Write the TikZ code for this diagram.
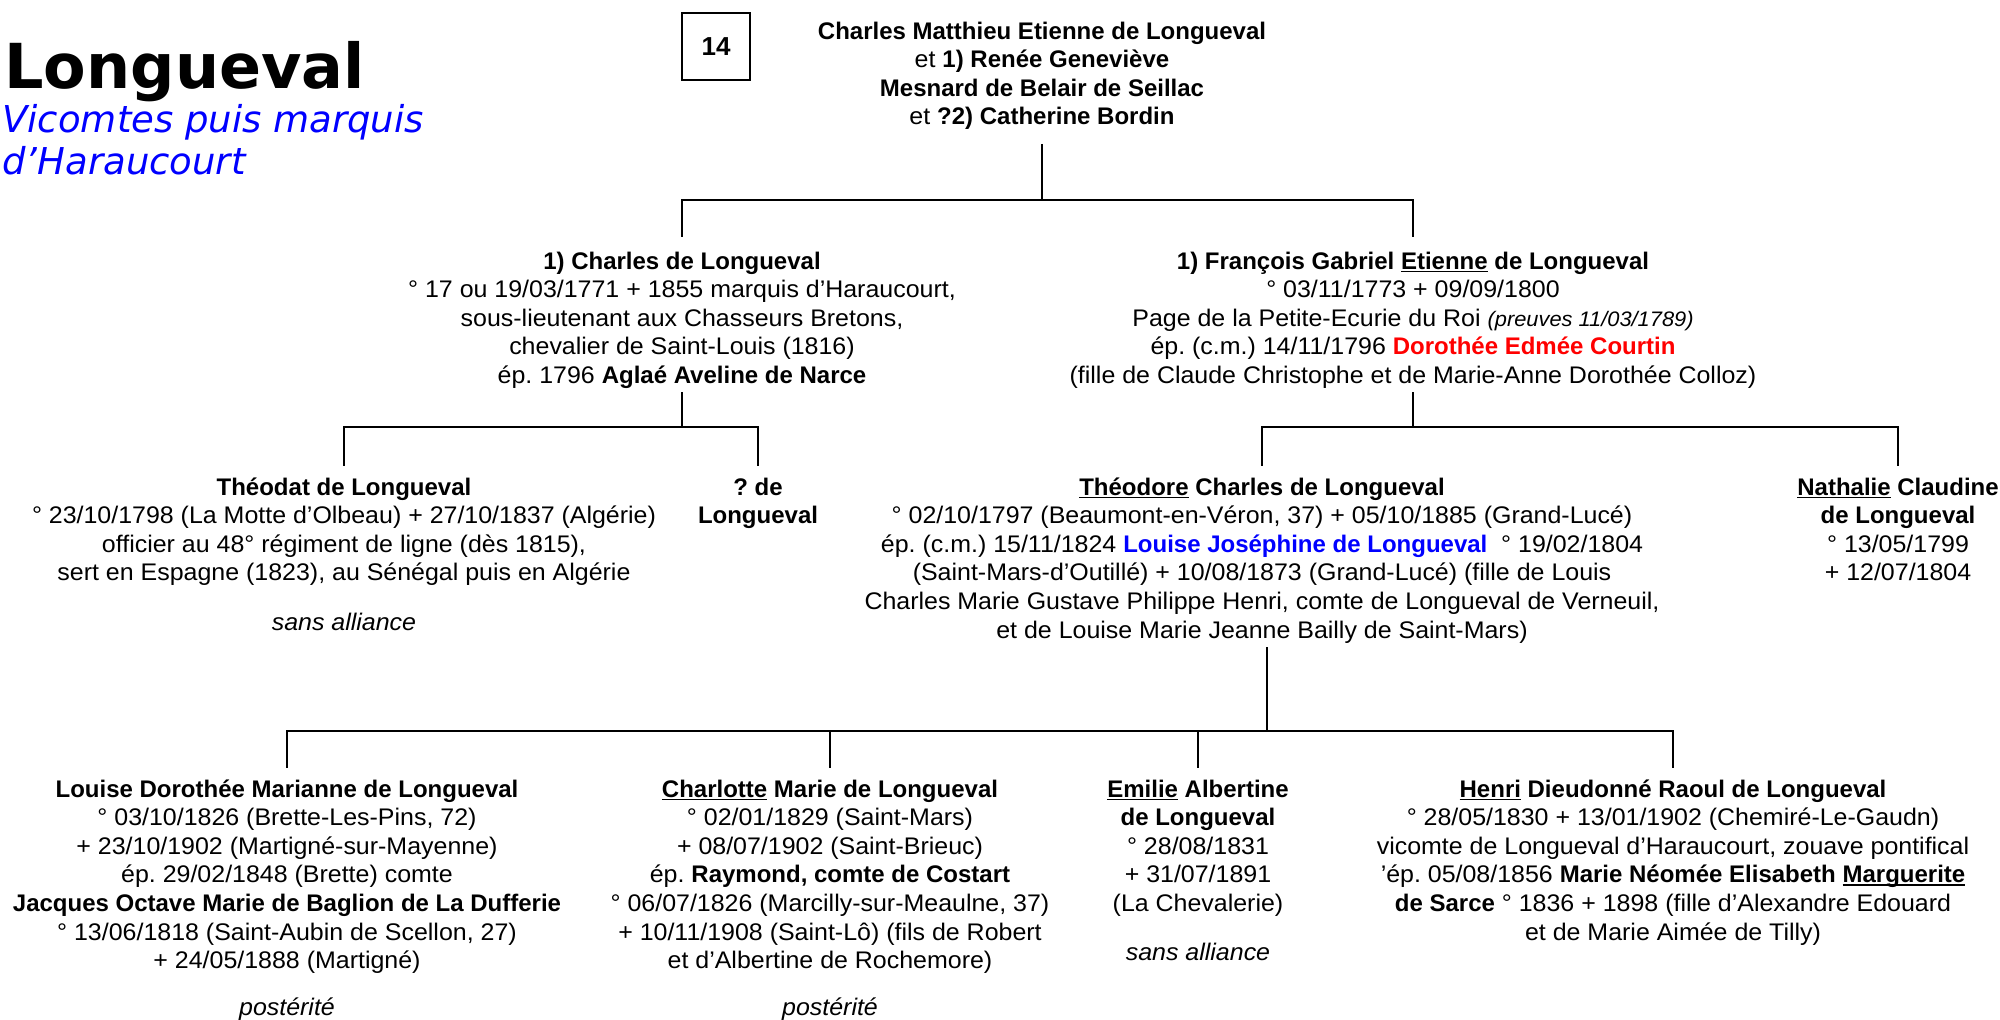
\documentclass[tikz,border=0pt]{standalone}
\usepackage{fontspec}
\setmainfont{Liberation Sans}[UprightFeatures={FakeStretch=1.04},ItalicFeatures={FakeStretch=1.04}]
\newfontfamily\titlefont{DejaVu Sans}
\definecolor{tblue}{RGB}{0,0,255}
\definecolor{tred}{RGB}{255,0,0}
\newcommand\ulw[1]{\setbox0\hbox{#1}\rlap{\rule[-1.6pt]{\wd0}{0.8pt}}\box0\relax}
\newcommand\bodyfont{\fontsize{12}{14.3}\selectfont\frenchspacing}
\begin{document}
\begin{tikzpicture}[x=0.5pt,y=-0.5pt,
  person/.style={anchor=north,inner sep=0pt,align=center,font=\bodyfont},
  conn/.style={line width=1.35pt},
  kid/.style={shorten >=4.5pt},
  kidtop/.style={shorten >=6pt}]
\useasboundingbox (0,0) rectangle (2000,1020);
\node[anchor=base west,inner sep=0pt,font=\titlefont\bfseries\fontsize{31}{36}\selectfont] (title) at (4,89) {Longueval};
\node[anchor=base west,inner sep=0pt,font=\titlefont\itshape\fontsize{18.5}{21}\selectfont,text=tblue] (sub1) at (2,133) {Vicomtes puis marquis};
\node[anchor=base west,inner sep=0pt,font=\titlefont\itshape\fontsize{18.5}{21}\selectfont,text=tblue] (sub2) at (2,175) {d’Haraucourt};
\node[draw,line width=0.6pt,minimum width=34pt,minimum height=33.5pt,inner sep=0pt,font=\bfseries\fontsize{13}{15}\selectfont] (num) at (716,46.5) {14};

\node[person] (p0) at (1042,18.6) {\strut\textbf{Charles Matthieu Etienne de Longueval}\\et \textbf{1) Renée Geneviève}\\\textbf{Mesnard de Belair de Seillac}\\et \textbf{?2) Catherine Bordin}\strut};

\node[person] (c1) at (682,248.6) {\strut\textbf{1) Charles de Longueval}\\° 17 ou 19/03/1771 + 1855 marquis d’Haraucourt,\\sous-lieutenant aux Chasseurs Bretons,\\chevalier de Saint-Louis (1816)\\ép. 1796 \textbf{Aglaé Aveline de Narce}\strut};

\node[person] (c2) at (1413,248.6) {\strut\textbf{1) François Gabriel \ulw{Etienne} de Longueval}\\° 03/11/1773 + 09/09/1800\\Page de la Petite-Ecurie du Roi {\itshape\fontsize{10.5}{12}\selectfont(preuves 11/03/1789)}\\ép. (c.m.) 14/11/1796 \textcolor{tred}{\bfseries Dorothée Edmée Courtin}\\(fille de Claude Christophe et de Marie-Anne Dorothée Colloz)\strut};

\node[person] (g1) at (344,474.6) {\strut\textbf{Théodat de Longueval}\\° 23/10/1798 (La Motte d’Olbeau) + 27/10/1837 (Algérie)\\officier au 48° régiment de ligne (dès 1815),\\sert en Espagne (1823), au Sénégal puis en Algérie\\[10.7pt]\textit{sans alliance}\strut};

\node[person] (g2) at (758,474.6) {\strut\textbf{? de}\\\textbf{Longueval}\strut};

\node[person] (g3) at (1262,474.6) {\strut\textbf{\ulw{Théodore} Charles de Longueval}\\° 02/10/1797 (Beaumont-en-Véron, 37) + 05/10/1885 (Grand-Lucé)\\ép. (c.m.) 15/11/1824 \textcolor{tblue}{\bfseries Louise Joséphine de Longueval}\ \ ° 19/02/1804\\(Saint-Mars-d’Outillé) + 10/08/1873 (Grand-Lucé) (fille de Louis\\Charles Marie Gustave Philippe Henri, comte de Longueval de Verneuil,\\et de Louise Marie Jeanne Bailly de Saint-Mars)\strut};

\node[person] (g4) at (1898,474.6) {\strut\textbf{\ulw{Nathalie} Claudine}\\\textbf{de Longueval}\\° 13/05/1799\\+ 12/07/1804\strut};

\node[person] (g5) at (287,776.6) {\strut\textbf{Louise Dorothée Marianne de Longueval}\\° 03/10/1826 (Brette-Les-Pins, 72)\\+ 23/10/1902 (Martigné-sur-Mayenne)\\ép. 29/02/1848 (Brette) comte\\\textbf{Jacques Octave Marie de Baglion de La Dufferie}\\° 13/06/1818 (Saint-Aubin de Scellon, 27)\\+ 24/05/1888 (Martigné)\\[9pt]\textit{postérité}\strut};

\node[person] (g6) at (830,776.6) {\strut\textbf{\ulw{Charlotte} Marie de Longueval}\\° 02/01/1829 (Saint-Mars)\\+ 08/07/1902 (Saint-Brieuc)\\ép. \textbf{Raymond, comte de Costart}\\° 06/07/1826 (Marcilly-sur-Meaulne, 37)\\+ 10/11/1908 (Saint-Lô) (fils de Robert\\et d’Albertine de Rochemore)\\[9pt]\textit{postérité}\strut};

\node[person] (g7) at (1198,776.6) {\strut\textbf{\ulw{Emilie} Albertine}\\\textbf{de Longueval}\\° 28/08/1831\\+ 31/07/1891\\(La Chevalerie)\\[10pt]\textit{sans alliance}\strut};

\node[person] (g8) at (1673,776.6) {\strut\textbf{\ulw{Henri} Dieudonné Raoul de Longueval}\\° 28/05/1830 + 13/01/1902 (Chemiré-Le-Gaudn)\\vicomte de Longueval d’Haraucourt, zouave pontifical\\’ép. 05/08/1856 \textbf{Marie Néomée Elisabeth \ulw{Marguerite}}\\\textbf{de Sarce} ° 1836 + 1898 (fille d’Alexandre Edouard\\et de Marie Aimée de Tilly)\strut};

\coordinate (j0) at (1042,200);
\coordinate (j1) at (682,427);
\coordinate (j2) at (1413,427);
\coordinate (j3) at (1267,731);
\draw[conn,shorten <=5pt] (p0.south) -- (j0);
\draw[conn,kidtop] (j0) -| (c1.north);
\draw[conn,kidtop] (j0) -| (c2.north);
\draw[conn] (c1.south) -- (j1);
\draw[conn,kid] (j1) -| (g1.north);
\draw[conn,kid] (j1) -| (g2.north);
\draw[conn] (c2.south) -- (j2);
\draw[conn,kid] (j2) -| (g3.north);
\draw[conn,kid] (j2) -| (g4.north);
\draw[conn] (g3.south -| j3) -- (j3);
\draw[conn,kid] (j3) -| (g5.north);
\draw[conn,kid] (j3) -| (g6.north);
\draw[conn,kid] (j3) -| (g7.north);
\draw[conn,kid] (j3) -| (g8.north);
\end{tikzpicture}
\end{document}
